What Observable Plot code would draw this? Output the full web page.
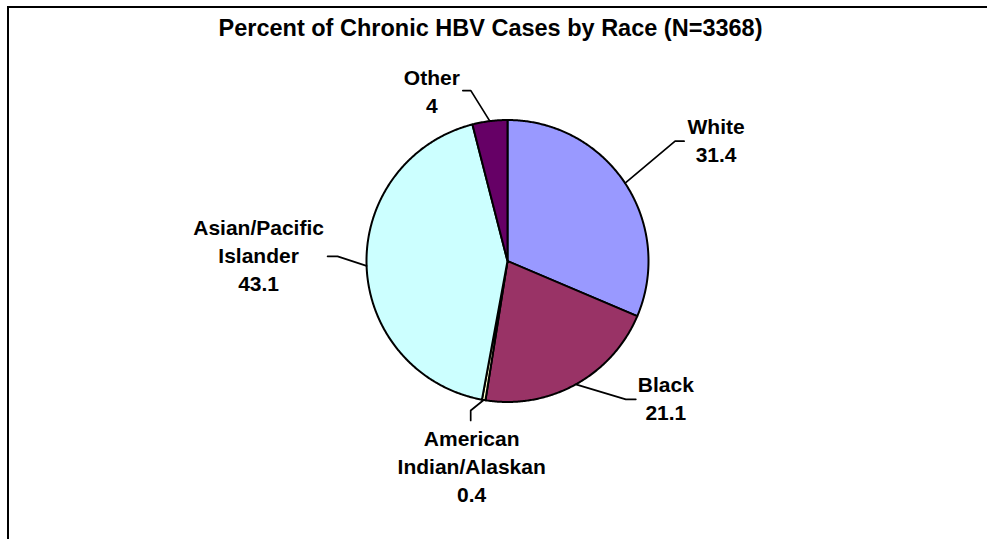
<!DOCTYPE html>
<html>
<head>
<meta charset="utf-8">
<script src="https://cdn.jsdelivr.net/npm/d3@7"></script>
<script src="https://cdn.jsdelivr.net/npm/@observablehq/plot@0.6"></script>
<style>
  html, body { margin: 0; padding: 0; background: #fff; }
  #wrap { position: relative; width: 987px; height: 539px; overflow: hidden; }
  #frame { position: absolute; left: 7px; top: 6px; width: 1200px; height: 800px;
           border-top: 2px solid #000; border-left: 2px solid #000; pointer-events: none; }
  #chart { position: absolute; left: 0; top: 0; }
</style>
</head>
<body>
<div id="wrap"><div id="chart"></div><div id="frame"></div></div>
<script>
// ---- data ----
const title = "Percent of Chronic HBV Cases by Race (N=3368)";
const categories = ["White", "Black", "American Indian/Alaskan", "Asian/Pacific Islander", "Other"];
const labelNames = ["White", "Black", "American\nIndian/Alaskan", "Asian/Pacific\nIslander", "Other"];
const values = [31.4, 21.1, 0.4, 43.1, 4];
const colors = ["#9999FF", "#993366", "#FFFFCC", "#CCFFFF", "#660066"];

// ---- layout (pixels) ----
const W = 987, H = 539;
const cx = 507, cy = 260.5, R = 141;
// leader elbow, leader end and label centre as pixel offsets from the slice's mid-angle edge point
const leaderLayout = [
  {elbow: [50, -42], end: [59, -42], label: [91, -44.5]},
  {elbow: [50, 15], end: [60, 15], label: [90, 12.5]},
  {elbow: [-13, 10.5], end: [-13, 20.5], label: [-12, 65]},
  {elbow: [-29, -9.5], end: [-39, -9.5], label: [-108, -11.5]},
  {elbow: [-19, -30.5], end: [-27, -30.5], label: [-58, -31.5]}
];

// pie angles (clockwise from 12 o'clock)
const pie = d3.pie().sort(null).value(d => d)(values);
const slicePts = [];
pie.forEach((p, i) => {
  slicePts.push({cat: categories[i], x: 0, y: 0});
  const n = Math.max(2, Math.ceil((p.endAngle - p.startAngle) / (Math.PI / 360)));
  for (let k = 0; k <= n; k++) {
    const a = p.startAngle + (p.endAngle - p.startAngle) * k / n;
    slicePts.push({cat: categories[i], x: Math.sin(a), y: Math.cos(a)});
  }
  slicePts.push({cat: categories[i], x: 0, y: 0});
});

const leaderPts = [];
const labels = [];
pie.forEach((p, i) => {
  const a = (p.startAngle + p.endAngle) / 2;
  const ex = Math.sin(a), ey = Math.cos(a);
  const L = leaderLayout[i];
  leaderPts.push({cat: categories[i], x: ex, y: ey});
  leaderPts.push({cat: categories[i], x: ex + L.elbow[0] / R, y: ey - L.elbow[1] / R});
  leaderPts.push({cat: categories[i], x: ex + L.end[0] / R, y: ey - L.end[1] / R});
  labels.push({x: ex + L.label[0] / R, y: ey - L.label[1] / R, text: labelNames[i] + "\n" + values[i]});
});

const font = "Liberation Sans, Arial, Helvetica, sans-serif";
const plot = Plot.plot({
  width: W, height: H,
  margin: 0,
  style: {background: "transparent", fontFamily: font, overflow: "visible"},
  x: {domain: [-cx / R, (W - cx) / R], range: [0, W], axis: null},
  y: {domain: [-(H - cy) / R, cy / R], range: [H, 0], axis: null},
  color: {domain: categories, range: colors},
  marks: [
    Plot.line(slicePts, {x: "x", y: "y", z: "cat", fill: "cat", stroke: "#000", strokeWidth: 2, strokeLinejoin: "round"}),
    Plot.line(leaderPts, {x: "x", y: "y", z: "cat", stroke: "#000", strokeWidth: 1.7}),
    Plot.text(labels, {x: "x", y: "y", text: "text", fontSize: 21, fontWeight: "bold", lineHeight: 1.33,
      textAnchor: "middle", lineAnchor: "middle", fill: "#000", fontFamily: font}),
    Plot.text([title], {frameAnchor: "top-left", dx: 490, dy: 28, text: d => d, fontSize: 23.5, fontWeight: "bold",
      textAnchor: "middle", lineAnchor: "middle", fill: "#000", fontFamily: font})
  ]
});
document.getElementById("chart").appendChild(plot);
</script>
</body>
</html>
